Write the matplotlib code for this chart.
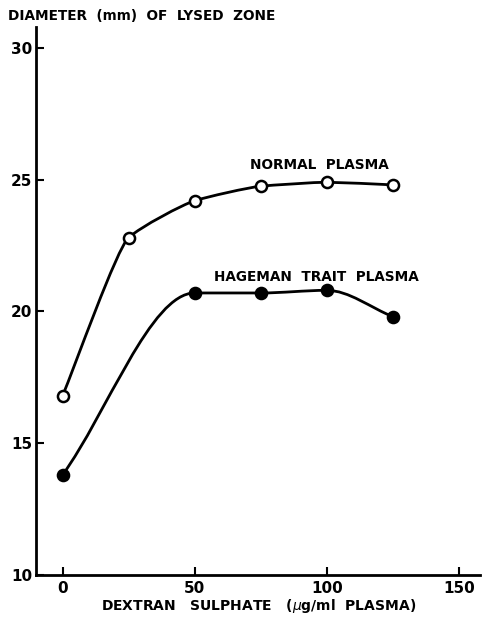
import numpy as np
import matplotlib
matplotlib.use("Agg")
import matplotlib.pyplot as plt
from matplotlib.path import Path
from matplotlib.patches import PathPatch

dose = [0, 25, 50, 75, 100, 125]
normal = [16.8, 22.8, 24.2, 24.75, 24.9, 24.8]

dose_hag = [0, 50, 75, 100, 125]
hageman = [13.8, 20.7, 20.7, 20.8, 19.8]

x_ticks = [0, 50, 100, 150]
y_ticks = [10, 15, 20, 25, 30]


def smooth_path(xs, ys, handle=1 / 3):
    # monotone cubic Hermite (Fritsch-Carlson slopes) drawn as Bezier segments;
    # smaller handle -> straighter segments with rounder corners
    x = np.asarray(xs, float)
    y = np.asarray(ys, float)
    h = np.diff(x)
    d = np.diff(y) / h
    n = len(x)
    m = np.zeros(n)
    m[0], m[-1] = d[0], d[-1]
    for i in range(1, n - 1):
        if d[i - 1] * d[i] <= 0:
            m[i] = 0
        else:
            w1 = 2 * h[i] + h[i - 1]
            w2 = h[i] + 2 * h[i - 1]
            m[i] = (w1 + w2) / (w1 / d[i - 1] + w2 / d[i])
    verts = [(x[0], y[0])]
    codes = [Path.MOVETO]
    for i in range(n - 1):
        k = h[i] * handle
        verts += [(x[i] + k, y[i] + m[i] * k), (x[i + 1] - k, y[i + 1] - m[i + 1] * k), (x[i + 1], y[i + 1])]
        codes += [Path.CURVE4] * 3
    return Path(verts, codes)


fig = plt.figure(figsize=(4.82, 6.21), dpi=100)
ax = fig.add_axes([0.075, 0.074, 0.921, 0.883])

for xs, ys, face, hd in [(dose, normal, "white", 0.18), (dose_hag, hageman, "black", 1 / 3)]:
    ax.add_patch(PathPatch(smooth_path(xs, ys, hd), fill=False, lw=2, edgecolor="black", zorder=2))
    ax.plot(xs, ys, ls="none", marker="o", ms=8, mfc=face, mec="black", mew=1.8, zorder=3)

ax.set_xlim(-10, 158)
ax.set_ylim(10, 30.8)
ax.set_xticks(x_ticks)
ax.set_yticks(y_ticks)
ax.spines["top"].set_visible(False)
ax.spines["right"].set_visible(False)
for s in ["left", "bottom"]:
    ax.spines[s].set_linewidth(2)
ax.tick_params(direction="in", length=6, width=1.5, labelsize=11, pad=4)
for lab in ax.get_xticklabels() + ax.get_yticklabels():
    lab.set_fontweight("bold")
ax.tick_params(axis="y", pad=3)

ax.text(97, 25.55, "NORMAL  PLASMA", ha="center", va="center", fontsize=9.8, fontweight="bold")
ax.text(96, 21.3, "HAGEMAN  TRAIT  PLASMA", ha="center", va="center", fontsize=9.8, fontweight="bold")

fig.text(0.017, 0.975, "DIAMETER  (mm)  OF  LYSED  ZONE", ha="left", va="center",
         fontsize=9.8, fontweight="bold")
ax.set_xlabel("DEXTRAN   SULPHATE   ($\\mu$g/ml  PLASMA)", fontsize=10, fontweight="bold", labelpad=1)

fig.savefig("out.png", dpi=100)
